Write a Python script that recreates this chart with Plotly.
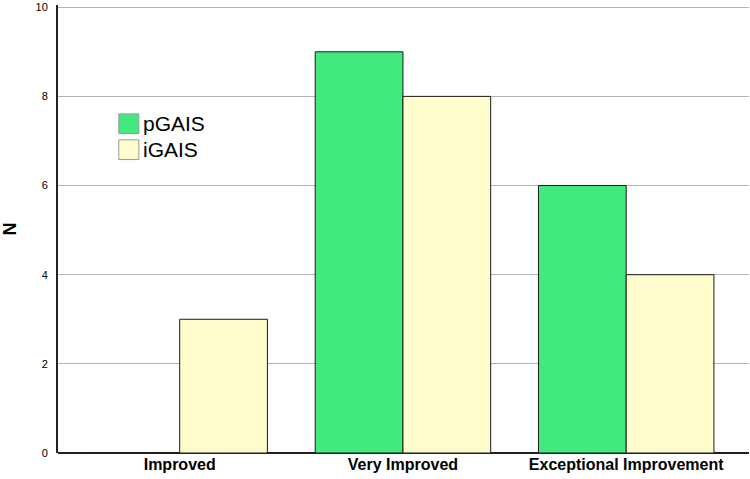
import plotly.graph_objects as go

categories = ["Improved", "Very Improved", "Exceptional Improvement"]
pgais = [0, 9, 6]
igais = [3, 8, 4]
series_names = ["pGAIS", "iGAIS"]
y_ticks = [0, 2, 4, 6, 8, 10]

GREEN = "#42E97E"
YELLOW = "#FFFDCE"

fig = go.Figure()
fig.add_trace(go.Bar(x=categories, y=pgais, name=series_names[0],
                     marker=dict(color=GREEN, line=dict(color="#1a1a1a", width=1))))
fig.add_trace(go.Bar(x=categories, y=igais, name=series_names[1],
                     marker=dict(color=YELLOW, line=dict(color="#1a1a1a", width=1))))

# hand-made legend with larger swatches, like the SPSS output
for i, (name, col) in enumerate(zip(series_names, [GREEN, YELLOW])):
    y0 = 0.757 - i * 0.058
    fig.add_shape(type="rect", xref="paper", yref="paper",
                  x0=0.088, x1=0.117, y0=y0 - 0.044, y1=y0,
                  fillcolor=col, line=dict(color="#999999", width=1))
    fig.add_annotation(text=name, xref="paper", yref="paper",
                       x=0.12, y=y0 - 0.022, xanchor="left", yanchor="middle",
                       showarrow=False, font=dict(size=21, color="#000000"))

fig.update_layout(
    width=750, height=479,
    margin=dict(l=56, r=1, t=4, b=26),
    barmode="group", bargap=0.214, bargroupgap=0,
    plot_bgcolor="white", paper_bgcolor="white",
    showlegend=False,
    font=dict(family="Arial, Liberation Sans, sans-serif", color="#000000"),
)
fig.update_xaxes(range=[-0.545, 2.55], showline=False, ticks="",
                 tickfont=dict(size=16, weight="bold"),
                 showgrid=False)
fig.update_yaxes(range=[0, 10.05], tickvals=y_ticks, showgrid=True, gridcolor="#b4b4b4",
                 gridwidth=1, showline=True, linecolor="#222222", linewidth=2,
                 zeroline=True, zerolinecolor="#222222", zerolinewidth=2,
                 ticks="", tickfont=dict(size=11), ticklabelstandoff=6,
                 title=dict(text="<b>N</b>", font=dict(size=18), standoff=22))

fig.write_html("out.html", config={"displayModeBar": False},
               post_script="document.body.style.margin='0';")
